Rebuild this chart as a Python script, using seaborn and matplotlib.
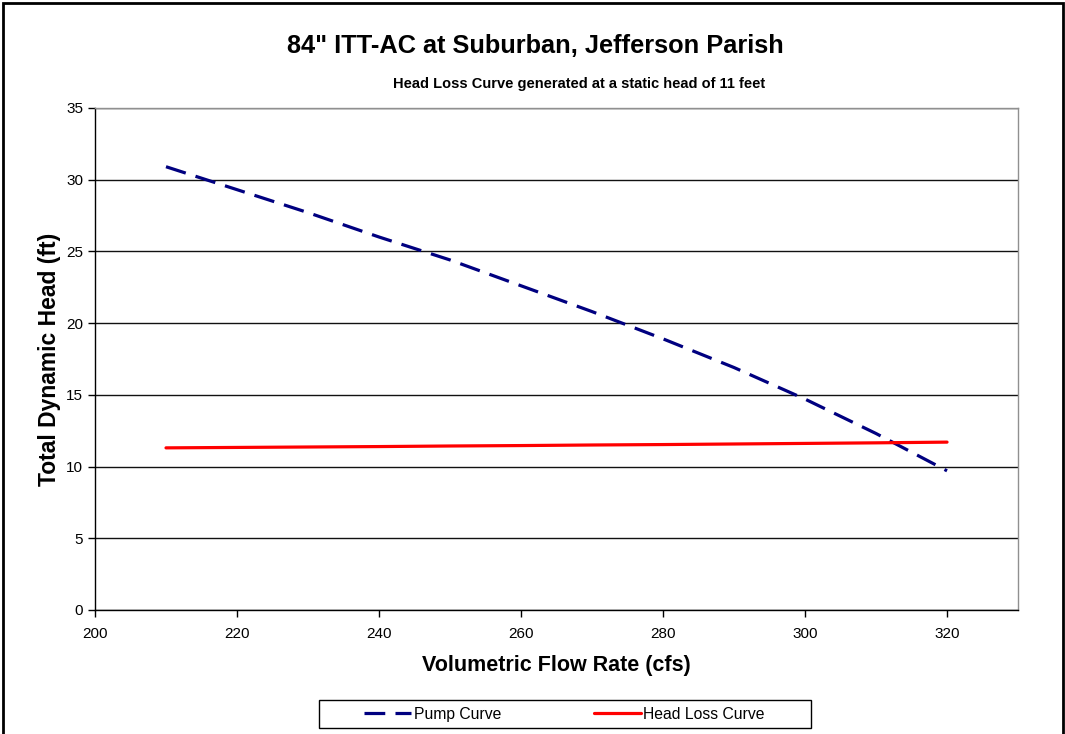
import pandas as pd
import matplotlib.pyplot as plt
import seaborn as sns
from matplotlib.patches import Rectangle

# flow rates (cfs)
flow = [210, 220, 230, 240, 250, 260, 270, 280, 290, 300, 310, 320]
# (ft)
pump_head = [30.9, 29.3, 27.7, 26.0, 24.4, 22.6, 20.8, 18.9, 16.9, 14.7, 12.3, 9.7]
loss_head = [11.30, 11.33, 11.36, 11.39, 11.43, 11.46, 11.50, 11.53, 11.57, 11.61, 11.65, 11.70]

x_ticks = [200, 220, 240, 260, 280, 300, 320]
y_ticks = [0, 5, 10, 15, 20, 25, 30, 35]

df = pd.DataFrame({"flow": flow, "pump": pump_head, "loss": loss_head})

sns.set_style("white")
plt.rcParams['font.family'] = ['Liberation Sans', 'DejaVu Sans']
plt.rcParams.update({"text.color": "black", "axes.labelcolor": "black",
                     "xtick.color": "black", "ytick.color": "black"})

fig = plt.figure(figsize=(10.65, 7.34), dpi=100)
ax = fig.add_axes([0.0892, 0.169, 0.8667, 0.684])

sns.lineplot(data=df, x="flow", y="pump", ax=ax, color="#000080", linewidth=2.3,
             label="Pump Curve")
ax.lines[-1].set_dashes((6.5, 3.2))
sns.lineplot(data=df, x="flow", y="loss", ax=ax, color="#FF0000", linewidth=2.3,
             label="Head Loss Curve")

ax.set_xlim(200, 330)
ax.set_ylim(0, 35)
ax.set_xticks(x_ticks)
ax.set_yticks(y_ticks)
ax.grid(axis="y", color="#111111", linewidth=1)
ax.set_axisbelow(True)
ax.tick_params(axis="both", direction="out", length=5, width=1, labelsize=11,
               colors="black", bottom=True, left=True)
ax.tick_params(axis="x", pad=7)
for side in ["top", "right"]:
    ax.spines[side].set_color("#909090")
for side in ["left", "bottom"]:
    ax.spines[side].set_color("black")
for s in ax.spines.values():
    s.set_linewidth(1)

ax.set_xlabel("Volumetric Flow Rate (cfs)", fontsize=15.5, fontweight="bold", labelpad=10)
ax.set_ylabel("Total Dynamic Head (ft)", fontsize=16.5, fontweight="bold", labelpad=4)

fig.text(0.503, 0.938, '84" ITT-AC at Suburban, Jefferson Parish', ha="center",
         va="center", fontsize=18.3, fontweight="bold")
fig.text(0.544, 0.886, "Head Loss Curve generated at a static head of 11 feet",
         ha="center", va="center", fontsize=10.5, fontweight="bold")

ax.get_legend().remove()
handles, labels = ax.get_legend_handles_labels()
leg = fig.legend(handles, labels, loc="center", bbox_to_anchor=(0.5299, 0.0272),
                 ncol=2, fontsize=11.3, frameon=False, columnspacing=5.9,
                 handlelength=3.0, handletextpad=0.15)

# legend box, drawn separately for the wide side padding
fig.patches.append(Rectangle((0.2995, 0.0082), 0.462, 0.038, transform=fig.transFigure,
                             fill=False, edgecolor="black", linewidth=1))

# outer chart border
fig.patches.append(Rectangle((0.003, -0.02), 0.995, 1.016, transform=fig.transFigure,
                             fill=False, edgecolor="black", linewidth=2))

fig.savefig("out.png", dpi=100)
